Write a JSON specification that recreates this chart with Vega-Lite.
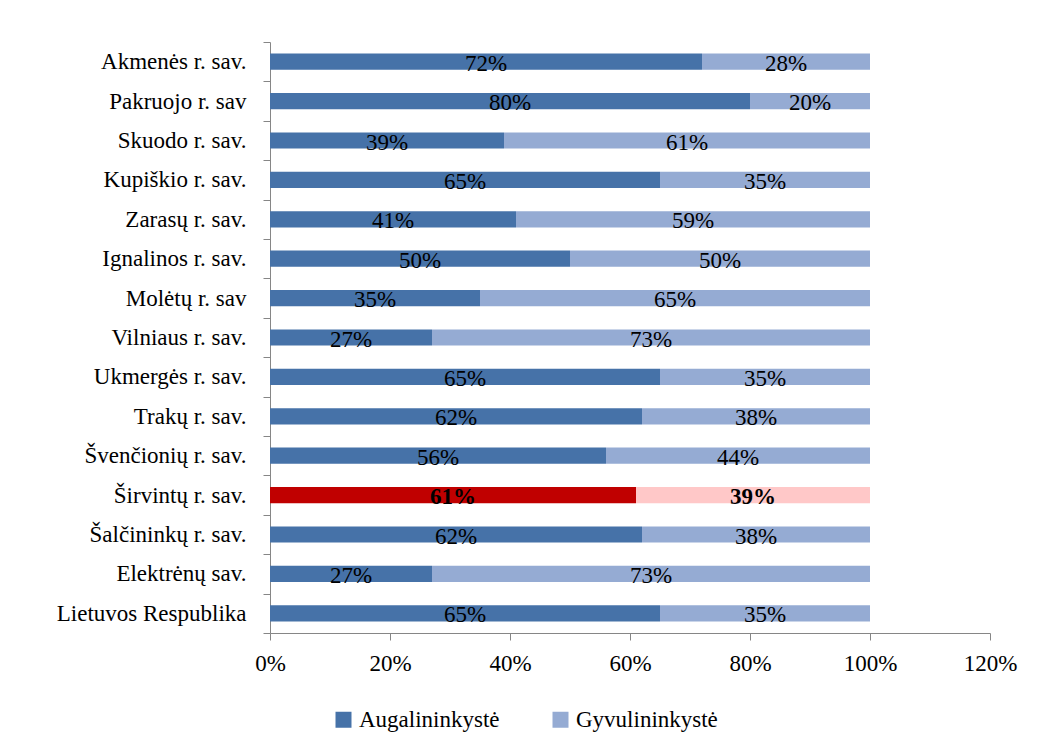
{
  "$schema": "https://vega.github.io/schema/vega-lite/v6.json",
  "autosize": {"type": "none"},
  "padding": {"left": 270, "top": 42, "right": 50, "bottom": 118},
  "width": 720,
  "height": 591,
  "background": "white",
  "config": {
    "view": {"stroke": null},
    "font": "Liberation Serif",
    "axis": {"grid": false, "domainColor": "#868686", "tickColor": "#868686", "labelFont": "Liberation Serif", "labelFontSize": 23, "labelColor": "black", "title": null, "labelLimit": 0}
  },
  "data": {"values": [
    {"region": "Akmenės r. sav.", "type": "Augalininkystė", "value": 0.72},
    {"region": "Akmenės r. sav.", "type": "Gyvulininkystė", "value": 0.28},
    {"region": "Pakruojo r. sav", "type": "Augalininkystė", "value": 0.80},
    {"region": "Pakruojo r. sav", "type": "Gyvulininkystė", "value": 0.20},
    {"region": "Skuodo r. sav.", "type": "Augalininkystė", "value": 0.39},
    {"region": "Skuodo r. sav.", "type": "Gyvulininkystė", "value": 0.61},
    {"region": "Kupiškio r. sav.", "type": "Augalininkystė", "value": 0.65},
    {"region": "Kupiškio r. sav.", "type": "Gyvulininkystė", "value": 0.35},
    {"region": "Zarasų r. sav.", "type": "Augalininkystė", "value": 0.41},
    {"region": "Zarasų r. sav.", "type": "Gyvulininkystė", "value": 0.59},
    {"region": "Ignalinos r. sav.", "type": "Augalininkystė", "value": 0.50},
    {"region": "Ignalinos r. sav.", "type": "Gyvulininkystė", "value": 0.50},
    {"region": "Molėtų r. sav", "type": "Augalininkystė", "value": 0.35},
    {"region": "Molėtų r. sav", "type": "Gyvulininkystė", "value": 0.65},
    {"region": "Vilniaus r. sav.", "type": "Augalininkystė", "value": 0.27},
    {"region": "Vilniaus r. sav.", "type": "Gyvulininkystė", "value": 0.73},
    {"region": "Ukmergės r. sav.", "type": "Augalininkystė", "value": 0.65},
    {"region": "Ukmergės r. sav.", "type": "Gyvulininkystė", "value": 0.35},
    {"region": "Trakų r. sav.", "type": "Augalininkystė", "value": 0.62},
    {"region": "Trakų r. sav.", "type": "Gyvulininkystė", "value": 0.38},
    {"region": "Švenčionių r. sav.", "type": "Augalininkystė", "value": 0.56},
    {"region": "Švenčionių r. sav.", "type": "Gyvulininkystė", "value": 0.44},
    {"region": "Širvintų r. sav.", "type": "Augalininkystė", "value": 0.61},
    {"region": "Širvintų r. sav.", "type": "Gyvulininkystė", "value": 0.39},
    {"region": "Šalčininkų r. sav.", "type": "Augalininkystė", "value": 0.62},
    {"region": "Šalčininkų r. sav.", "type": "Gyvulininkystė", "value": 0.38},
    {"region": "Elektrėnų sav.", "type": "Augalininkystė", "value": 0.27},
    {"region": "Elektrėnų sav.", "type": "Gyvulininkystė", "value": 0.73},
    {"region": "Lietuvos Respublika", "type": "Augalininkystė", "value": 0.65},
    {"region": "Lietuvos Respublika", "type": "Gyvulininkystė", "value": 0.35}
  ]},
  "encoding": {
    "y": {"field": "region", "type": "nominal", "sort": null,
      "scale": {"paddingInner": 0, "paddingOuter": 0},
      "axis": {"tickBand": "extent", "tickSize": 7, "labelPadding": 17, "domainColor": "#868686"}},
    "x": {"field": "value", "type": "quantitative", "stack": "zero",
      "scale": {"domain": [0, 1.2]},
      "axis": {"values": [0, 0.2, 0.4, 0.6, 0.8, 1.0, 1.2], "format": ".0%", "tickSize": 7, "labelPadding": 12, "labelFlush": false}}
  },
  "layer": [
    {
      "mark": {"type": "bar", "height": {"band": 0.41}},
      "encoding": {
        "color": {
          "condition": [
            {"test": "datum.region === 'Širvintų r. sav.' && datum.type === 'Augalininkystė'", "value": "#C00000"},
            {"test": "datum.region === 'Širvintų r. sav.' && datum.type === 'Gyvulininkystė'", "value": "#FFC8C8"}
          ],
          "field": "type", "type": "nominal",
          "scale": {"domain": ["Augalininkystė", "Gyvulininkystė"], "range": ["#4672A8", "#95ABD3"]},
          "legend": {"title": null, "orient": "none", "direction": "horizontal", "legendX": 62, "legendY": 666, "padding": 0,
            "symbolType": "square", "symbolSize": 256, "symbolStrokeWidth": 0, "labelFont": "Liberation Serif", "labelFontSize": 23, "labelColor": "black", "labelOffset": 4, "columnPadding": 49, "labelLimit": 0}
        },
        "order": {"field": "type"}
      }
    },
    {
      "transform": [{"filter": "datum.region !== 'Širvintų r. sav.'"}],
      "mark": {"type": "text", "fontSize": 23, "font": "Liberation Serif", "color": "black", "baseline": "middle", "dy": 2},
      "encoding": {
        "x": {"field": "value", "type": "quantitative", "stack": "zero", "bandPosition": 0.5},
        "text": {"field": "value", "type": "quantitative", "format": ".0%"},
        "order": {"field": "type"}
      }
    },
    {
      "transform": [{"filter": "datum.region === 'Širvintų r. sav.'"}],
      "mark": {"type": "text", "fontSize": 23, "font": "Liberation Serif", "fontWeight": "bold", "color": "black", "baseline": "middle", "dy": 2},
      "encoding": {
        "x": {"field": "value", "type": "quantitative", "stack": "zero", "bandPosition": 0.5},
        "text": {"field": "value", "type": "quantitative", "format": ".0%"},
        "order": {"field": "type"}
      }
    }
  ]
}
